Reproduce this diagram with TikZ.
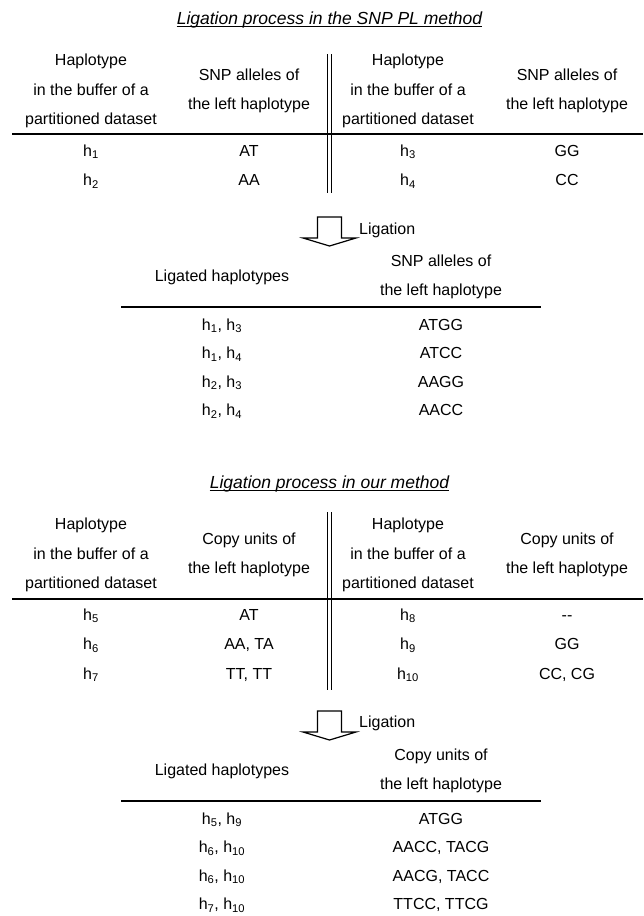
\documentclass[tikz,border=0pt]{standalone}
\usepackage{fontspec}
\setmainfont{Liberation Sans}

\begin{document}
\begin{tikzpicture}[
    x=1pt, y=-1pt, % one unit = one pixel, y runs downwards
    cell/.style={align=center, inner sep=0pt, font=\fontsize{16}{29.5}\selectfont},
    row/.style={cell, text height=11.6pt, text depth=3.4pt},
    title/.style={inner sep=0pt, anchor=base, font=\fontsize{17.5}{21}\selectfont\itshape},
    rule/.style={line width=1.4pt},
    bar/.style={line width=1.1pt},
    fatarrow/.style={line width=1.2pt, fill=white, line join=miter}
    ]
    \useasboundingbox (0,0) rectangle (643,916);

    % --- columns ---
    \def\ca{91} \def\cb{249} \def\cc{408} \def\cd{567} % buffer tables
    \def\la{222} \def\lb{441} % ligated tables
    \def\xmid{329.5}

    % 1. SNP PL method
    \begin{scope}[yshift=0pt]
        \node[title] (title1) at (\xmid, 24.5) {Ligation process in the SNP PL method};
        \draw[line width=0.9pt] ([yshift=-2pt]title1.base west) -- ([yshift=-2pt]title1.base east);

        % two buffers, split by the double bar
        \draw[bar] (\xmid-2.3, 54) -- (\xmid-2.3, 193);
        \draw[bar] (\xmid+2.3, 54) -- (\xmid+2.3, 193);
        \node[cell] (t1h1) at (\ca, 91) {Haplotype\\in the buffer of a\\partitioned dataset};
        \node[cell] (t1s1) at (\cb, 91) {SNP alleles of\\the left haplotype};
        \node[cell] (t1h2) at (\cc, 91) {Haplotype\\in the buffer of a\\partitioned dataset};
        \node[cell] (t1s2) at (\cd, 91) {SNP alleles of\\the left haplotype};
        \draw[rule] (12, 134) -- (643, 134);
        \foreach \a/\b/\c/\d [count=\i] in {1/AT/3/GG, 2/AA/4/CC} {
            \node[row] (t1a-\i) at (\ca, 122.5+29.5*\i) {h\textsubscript{\a}};
            \node[row] (t1b-\i) at (\cb, 122.5+29.5*\i) {\b};
            \node[row] (t1c-\i) at (\cc, 122.5+29.5*\i) {h\textsubscript{\c}};
            \node[row] (t1d-\i) at (\cd, 122.5+29.5*\i) {\d};
        }

        % ligation arrow
        \draw[fatarrow] (\xmid-12, 217) -- (\xmid+12, 217) -- (\xmid+12, 238) -- (\xmid+26.5, 238)
            -- (\xmid, 246) -- (\xmid-26.5, 238) -- (\xmid-12, 238) -- cycle;
        \node[cell, anchor=west] (lig1) at (359, 230) {Ligation};

        % ligated haplotypes
        \node[cell] (t2h) at (\la, 277) {Ligated haplotypes};
        \node[cell] (t2s) at (\lb, 277) {SNP alleles of\\the left haplotype};
        \draw[rule] (121, 307) -- (541, 307);
        \foreach \a/\b/\c [count=\i] in {1/3/ATGG, 1/4/ATCC, 2/3/AAGG, 2/4/AACC} {
            \node[row] (t2a-\i) at (\la, 297.5+28.5*\i) {h\textsubscript{\a}, h\textsubscript{\b}};
            \node[row] (t2b-\i) at (\lb, 297.5+28.5*\i) {\c};
        }
    \end{scope}

    % 2. our method
    \begin{scope}[yshift=-464pt]
        \node[title] (title2) at (\xmid, 24.5) {Ligation process in our method};
        \draw[line width=0.9pt] ([yshift=-2pt]title2.base west) -- ([yshift=-2pt]title2.base east);

        \draw[bar] (\xmid-2.3, 48) -- (\xmid-2.3, 226);
        \draw[bar] (\xmid+2.3, 48) -- (\xmid+2.3, 226);
        \node[cell] (t3h1) at (\ca, 91) {Haplotype\\in the buffer of a\\partitioned dataset};
        \node[cell] (t3c1) at (\cb, 91) {Copy units of\\the left haplotype};
        \node[cell] (t3h2) at (\cc, 91) {Haplotype\\in the buffer of a\\partitioned dataset};
        \node[cell] (t3c2) at (\cd, 91) {Copy units of\\the left haplotype};
        \draw[rule] (12, 135) -- (643, 135);
        \foreach \a/\b/\c/\d [count=\i] in {5/AT/8/-{}-, 6/{AA, TA}/9/GG, 7/{TT, TT}/10/{CC, CG}} {
            \node[row] (t3a-\i) at (\ca, 122.5+29.5*\i) {h\textsubscript{\a}};
            \node[row] (t3b-\i) at (\cb, 122.5+29.5*\i) {\b};
            \node[row] (t3c-\i) at (\cc, 122.5+29.5*\i) {h\textsubscript{\c}};
            \node[row] (t3d-\i) at (\cd, 122.5+29.5*\i) {\d};
        }

        \draw[fatarrow] (\xmid-12, 247) -- (\xmid+12, 247) -- (\xmid+12, 268) -- (\xmid+26.5, 268)
            -- (\xmid, 276) -- (\xmid-26.5, 268) -- (\xmid-12, 268) -- cycle;
        \node[cell, anchor=west] (lig2) at (359, 259.5) {Ligation};

        \node[cell] (t4h) at (\la, 307) {Ligated haplotypes};
        \node[cell] (t4c) at (\lb, 307) {Copy units of\\the left haplotype};
        \draw[rule] (121, 337) -- (541, 337);
        \foreach \a/\b/\c [count=\i] in {5/9/ATGG, 6/10/{AACC, TACG}, 6/10/{AACG, TACC}, 7/10/{TTCC, TTCG}} {
            \node[row] (t4a-\i) at (\la, 327.5+28.5*\i) {h\textsubscript{\a}, h\textsubscript{\b}};
            \node[row] (t4b-\i) at (\lb, 327.5+28.5*\i) {\c};
        }
    \end{scope}
\end{tikzpicture}
\end{document}
